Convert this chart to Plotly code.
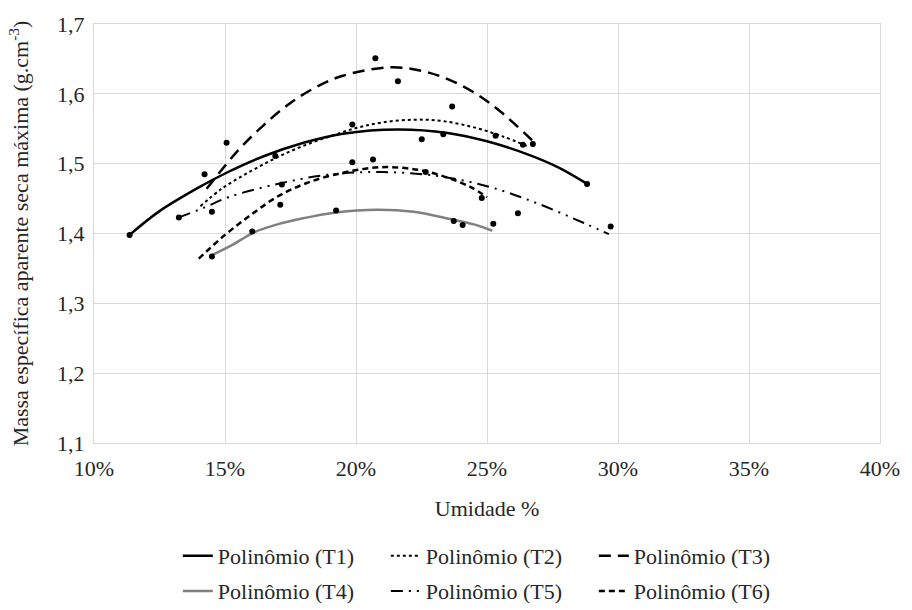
import plotly.graph_objects as go

# ---- data (x in %, y in g.cm-3) ----
t1_x = [11.36, 12.5, 14.0, 15.06, 16.5, 18.0, 19.5, 21.6, 23.5, 25.0, 26.5, 27.7, 28.82]
t1_y = [1.398, 1.432, 1.466, 1.487, 1.511, 1.530, 1.543, 1.549, 1.544, 1.532, 1.514, 1.495, 1.471]

t2_x = [14.06, 14.87, 15.88, 16.88, 17.89, 19.0, 20.0, 21.0, 22.2, 23.3, 24.5, 25.6, 26.55]
t2_y = [1.439, 1.464, 1.487, 1.507, 1.524, 1.539, 1.551, 1.559, 1.563, 1.561, 1.552, 1.539, 1.525]

t3_x = [14.3, 15.5, 16.5, 17.5, 18.5, 19.5, 21.3, 22.5, 23.5, 24.5, 25.5, 26.82]
t3_y = [1.464, 1.519, 1.556, 1.587, 1.610, 1.626, 1.638, 1.633, 1.621, 1.602, 1.575, 1.530]

t4_x = [14.5, 15.3, 16.07, 17.0, 17.89, 19.24, 20.8, 22.2, 23.67, 24.5, 25.2]
t4_y = [1.369, 1.384, 1.401, 1.413, 1.421, 1.430, 1.434, 1.431, 1.420, 1.413, 1.404]

t5_x = [13.24, 14.2, 15.13, 17.01, 18.9, 21.0, 23.17, 25.17, 26.93, 28.7, 29.65]
t5_y = [1.423, 1.437, 1.452, 1.471, 1.484, 1.488, 1.482, 1.466, 1.443, 1.415, 1.399]

t6_x = [14.0, 15.0, 16.0, 17.01, 18.1, 19.5, 21.0, 22.4, 23.5, 24.4, 25.0]
t6_y = [1.364, 1.398, 1.427, 1.453, 1.472, 1.487, 1.495, 1.491, 1.480, 1.466, 1.452]

pts_x = [11.36, 14.22, 15.06, 13.24, 14.50, 14.50, 16.04, 16.92, 17.11, 17.17, 19.24,
         19.86, 19.86, 20.65, 20.74, 21.60, 22.51, 23.33, 23.67, 22.66, 23.73, 24.07,
         24.80, 25.24, 25.33, 26.37, 26.75, 26.18, 28.82, 29.72]
pts_y = [1.398, 1.485, 1.530, 1.423, 1.431, 1.367, 1.403, 1.511, 1.441, 1.470, 1.433,
         1.556, 1.502, 1.506, 1.651, 1.618, 1.535, 1.542, 1.582, 1.488, 1.418, 1.412,
         1.451, 1.414, 1.540, 1.527, 1.528, 1.429, 1.471, 1.410]

names = ["Polinômio (T1)", "Polinômio (T2)", "Polinômio (T3)",
         "Polinômio (T4)", "Polinômio (T5)", "Polinômio (T6)"]

FONT = "Liberation Serif"
TXT = "#262626"
FS = 22

series = [
    (t1_x, t1_y, dict(color="black", width=2.5, dash="solid"), "legend"),
    (t2_x, t2_y, dict(color="black", width=2, dash="dot"), "legend"),
    (t3_x, t3_y, dict(color="black", width=2.5, dash="12px,7px"), "legend"),
    (t4_x, t4_y, dict(color="#808080", width=2.5, dash="solid"), "legend2"),
    (t5_x, t5_y, dict(color="black", width=2, dash="12px,6px,2px,6px,2px,6px"), "legend2"),
    (t6_x, t6_y, dict(color="black", width=2.5, dash="6px,4px"), "legend2"),
]

fig = go.Figure()
for (xs, ys, ln, lg), nm in zip(series, names):
    fig.add_trace(go.Scatter(x=xs, y=ys, mode="lines", name=nm,
                             line=dict(shape="spline", smoothing=1.0, **ln),
                             legend=lg))

fig.add_trace(go.Scatter(x=pts_x, y=pts_y, mode="markers", showlegend=False,
                         marker=dict(color="black", size=6)))

leg_common = dict(orientation="h", xref="container", yref="container",
                  xanchor="left", yanchor="middle",
                  entrywidth=163, entrywidthmode="pixels",
                  font=dict(family=FONT, size=FS, color=TXT),
                  bgcolor="rgba(0,0,0,0)", tracegroupgap=0)

fig.update_layout(
    width=912, height=610,
    margin=dict(l=94, r=22, t=16, b=167),
    paper_bgcolor="white", plot_bgcolor="white",
    separators=",.",
    font=dict(family=FONT, size=FS, color=TXT),
    showlegend=True,
    legend=dict(x=0.195, y=0.0885, **leg_common),
    legend2=dict(x=0.195, y=0.031, **leg_common),
)

fig.update_xaxes(range=[10, 40], tickmode="linear", tick0=10, dtick=5,
                 ticksuffix="%", showgrid=True, gridcolor="#d9d9d9", gridwidth=1,
                 showline=True, linecolor="#d9d9d9", linewidth=1, mirror=True,
                 zeroline=False, ticks="", ticklabelstandoff=6,
                 tickfont=dict(family=FONT, size=FS, color=TXT),
                 title=dict(text="Umidade %", font=dict(family=FONT, size=FS, color=TXT),
                            standoff=20))
fig.update_yaxes(range=[1.1, 1.7], tickmode="linear", tick0=1.1, dtick=0.1,
                 tickformat=".1f", showgrid=True, gridcolor="#d9d9d9", gridwidth=1,
                 showline=True, linecolor="#d9d9d9", linewidth=1, mirror=True,
                 zeroline=False, ticks="", ticklabelstandoff=4,
                 tickfont=dict(family=FONT, size=FS, color=TXT),
                 title=dict(text="Massa específica aparente seca máxima (g.cm<sup>-3</sup>)",
                            font=dict(family=FONT, size=FS, color=TXT), standoff=22))

fig.write_html("out.html")
